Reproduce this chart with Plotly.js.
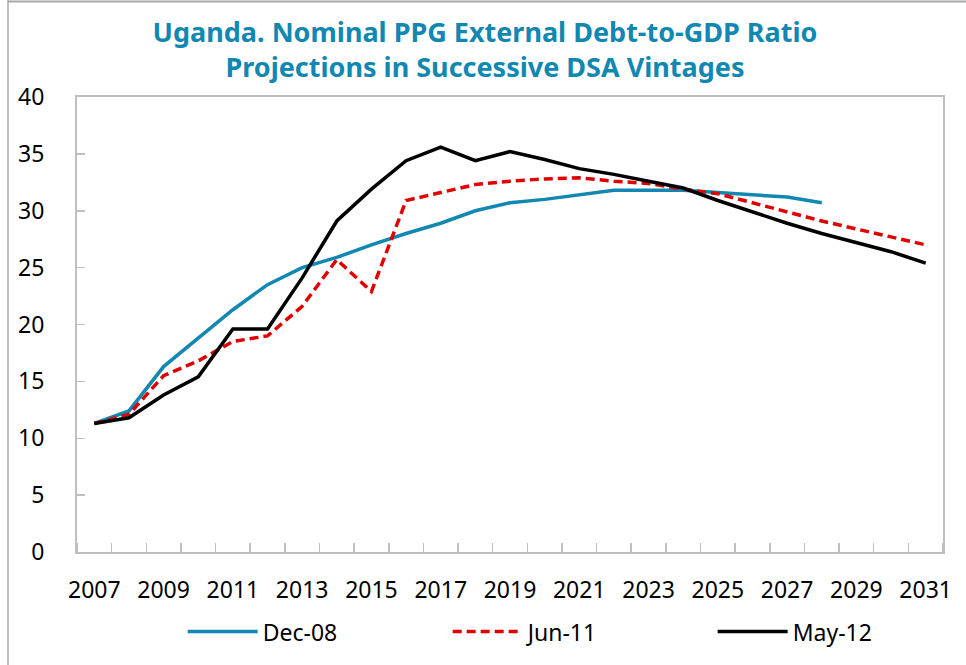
<!DOCTYPE html>
<html>
<head>
<meta charset="utf-8">
<script src="https://cdn.plot.ly/plotly-3.0.1.min.js"></script>
<style>html,body{margin:0;padding:0;background:#fff;}#chart{width:966px;height:665px;}</style>
</head>
<body>
<div id="chart"></div>
<script>
const years = [2007,2008,2009,2010,2011,2012,2013,2014,2015,2016,2017,2018,2019,2020,2021,2022,2023,2024,2025,2026,2027,2028,2029,2030,2031];
const dec08 = [11.3,12.4,16.3,18.8,21.3,23.5,25.0,25.9,27.0,28.0,28.9,30.0,30.7,31.0,31.4,31.8,31.8,31.8,31.6,31.4,31.2,30.7,null,null,null];
const jun11 = [11.3,12.1,15.5,16.8,18.5,19.0,21.6,25.7,22.9,30.9,31.6,32.3,32.6,32.8,32.9,32.6,32.4,31.9,31.5,30.7,29.9,29.1,28.4,27.7,27.0];
const may12 = [11.3,11.8,13.8,15.4,19.6,19.6,24.1,29.1,31.9,34.4,35.6,34.4,35.2,34.5,33.7,33.2,32.6,32.0,30.9,29.9,28.9,28.0,27.2,26.4,25.4];
const seriesNames = ['Dec-08','Jun-11','May-12'];
const yTicks = [0,5,10,15,20,25,30,35,40];
const xTickVals = [2007,2009,2011,2013,2015,2017,2019,2021,2023,2025,2027,2029,2031];

const axisGrey = '#BFBFBF';
const font = 'Noto Sans, Open Sans, DejaVu Sans, sans-serif';

const traces = [
  {x: years, y: dec08, name: seriesNames[0], type: 'scatter', mode: 'lines',
   line: {color: '#1187B1', width: 3.5}, connectgaps: false},
  {x: years, y: jun11, name: seriesNames[1], type: 'scatter', mode: 'lines',
   line: {color: '#E00000', width: 3.5, dash: '9px,5px'}},
  {x: years, y: may12, name: seriesNames[2], type: 'scatter', mode: 'lines',
   line: {color: '#000000', width: 3.5}}
];

const layout = {
  width: 966, height: 665,
  margin: {l: 77, r: 23, t: 97, b: 113, autoexpand: false},
  paper_bgcolor: '#fff', plot_bgcolor: '#fff',
  font: {family: font, size: 23, color: '#000'},
  title: {
    text: '<b>Uganda. Nominal PPG External Debt-to-GDP Ratio<br>Projections in Successive DSA Vintages</b>',
    font: {family: font, size: 27, color: '#1187B1'},
    x: 485/966, xref: 'container', xanchor: 'center',
    y: 1 - 42/665, yref: 'container', yanchor: 'middle'
  },
  xaxis: {
    type: 'linear', range: [2006.5, 2031.5],
    tickmode: 'array', tickvals: xTickVals, ticktext: xTickVals.map(String),
    ticks: '', showgrid: false, zeroline: false,
    showline: true, linecolor: axisGrey, linewidth: 2, mirror: true,
    ticklabelstandoff: 16,
    tickfont: {family: font, size: 23, color: '#000'},
    minor: {tick0: 2006.5, dtick: 1, ticks: 'inside', ticklen: 9, tickcolor: axisGrey, tickwidth: 1.5, showgrid: false}
  },
  yaxis: {
    range: [0, 40], tickmode: 'array', tickvals: yTicks,
    ticks: 'inside', ticklen: 8, tickcolor: axisGrey, tickwidth: 1.5,
    showgrid: false, zeroline: false,
    showline: true, linecolor: axisGrey, linewidth: 2, mirror: true,
    ticklabelstandoff: 26,
    tickfont: {family: font, size: 23, color: '#000'}
  },
  showlegend: true,
  legend: {
    orientation: 'h', x: (187-77)/866 - 0.005, xanchor: 'left', y: -0.175, yanchor: 'middle',
    font: {family: font, size: 23, color: '#000'},
    entrywidth: 180, entrywidthmode: 'pixels', itemwidth: 70,
    bgcolor: 'rgba(0,0,0,0)'
  },
  shapes: [
    {type: 'line', xref: 'paper', yref: 'paper', x0: (8-77)/866, x1: (8-77)/866, y0: -0.3, y1: 1.3,
     line: {color: axisGrey, width: 2}},
    {type: 'line', xref: 'paper', yref: 'paper', x0: (8-77)/866, x1: 1.1, y0: (552-1.5)/455, y1: (552-1.5)/455,
     line: {color: '#A6A6A6', width: 2}}
  ]
};

Plotly.newPlot('chart', traces, layout, {displayModeBar: false, staticPlot: true});
</script>
</body>
</html>
